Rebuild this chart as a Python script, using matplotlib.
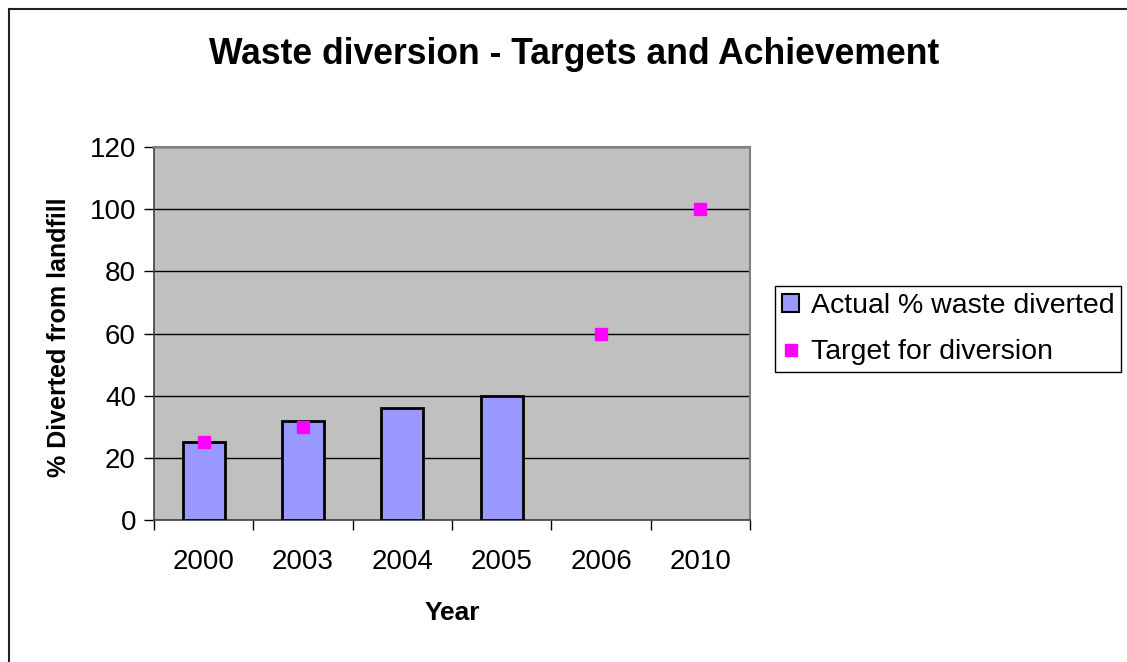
import matplotlib.pyplot as plt
import matplotlib.patches as mpatches
import numpy as np

plt.rcParams['font.family'] = ['Liberation Sans', 'DejaVu Sans']

# data
years = ['2000', '2003', '2004', '2005', '2006', '2010']
actual = [25, 32, 36, 40, None, None]
target = [25, 30, None, None, 60, 100]
yticks = [0, 20, 40, 60, 80, 100, 120]

W, H = 1127, 662
fig = plt.figure(figsize=(W / 100, H / 100), dpi=100)
ax = fig.add_axes([154/W, 1 - 520/H, (750 - 154)/W, (520 - 147)/H])

x = np.arange(len(years))
bar_x = [xi for xi, v in zip(x, actual) if v is not None]
bar_h = [v for v in actual if v is not None]
ax.bar(bar_x, bar_h, width=0.42, color='#9999FF', edgecolor='black',
       linewidth=2, zorder=3, label='Actual % waste diverted')

tx = [xi for xi, v in zip(x, target) if v is not None]
ty = [v for v in target if v is not None]
ax.plot(tx, ty, 's', color='#FF00FF', markersize=9, linestyle='none',
        zorder=4, label='Target for diversion')

ax.set_xlim(-0.5, len(years) - 0.5)
ax.set_ylim(0, 120)
ax.set_facecolor('#C0C0C0')
ax.set_yticks(yticks)
ax.yaxis.grid(True, color='black', linewidth=1)
ax.set_axisbelow(True)

# ticks between categories, labels at centres
ax.set_xticks(np.arange(-0.5, len(years)), minor=False)
ax.set_xticklabels([])
ax.set_xticks(x, minor=True)
ax.set_xticklabels(years, minor=True)
ax.tick_params(axis='x', which='major', length=7, width=1, direction='out')
ax.tick_params(axis='x', which='minor', length=0, pad=21, labelsize=20)
ax.tick_params(axis='y', length=7, width=1, labelsize=20, pad=6)

for s in ['left', 'bottom']:
    ax.spines[s].set_color('#404040')
    ax.spines[s].set_linewidth(1.2)
for s in ['top', 'right']:
    ax.spines[s].set_color('#808080')
    ax.spines[s].set_linewidth(1.5)

# axis titles and chart title
fig.text(59/W, 1 - 337/H, '% Diverted from landfill', rotation=90,
         ha='center', va='center', fontsize=18, fontweight='bold')
fig.text(452/W, 1 - 613/H, 'Year', ha='center', va='center',
         fontsize=19, fontweight='bold')
fig.text(574/W, 1 - 55/H, 'Waste diversion - Targets and Achievement',
         ha='center', va='center', fontsize=25.6, fontweight='bold')

# legend
h1 = mpatches.Patch(facecolor='#9999FF', edgecolor='black', linewidth=1.5)
h2 = plt.Line2D([], [], marker='s', color='#FF00FF', linestyle='none',
                markersize=9)
leg = fig.legend([h1, h2], ['Actual % waste diverted', 'Target for diversion'],
                 loc='upper left', bbox_to_anchor=(775/W, 1 - 286/H),
                 fontsize=20.5, fancybox=False, edgecolor='black',
                 framealpha=1, borderaxespad=0, handlelength=0.6,
                 handleheight=0.6, handletextpad=0.4, borderpad=0.25,
                 labelspacing=0.7)
leg.get_frame().set_linewidth(1)

# outer frame
fig.add_artist(plt.Line2D([9/W, 9/W], [0, 1 - 9/H],
                          transform=fig.transFigure, color='#222222',
                          linewidth=1.5))
fig.add_artist(plt.Line2D([9/W, 1], [1 - 9/H, 1 - 9/H],
                          transform=fig.transFigure, color='#222222',
                          linewidth=1.5))

fig.savefig('out.png', dpi=100)
